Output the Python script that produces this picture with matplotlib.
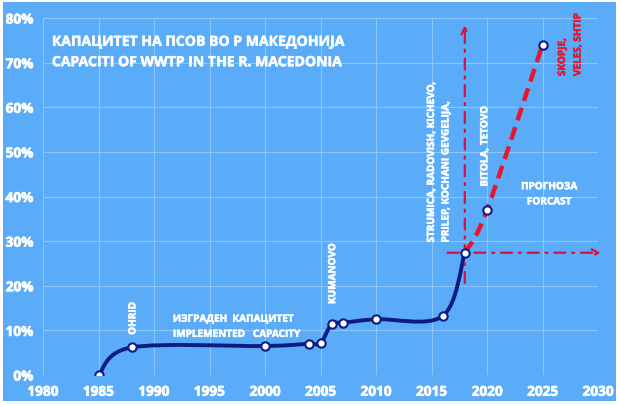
import matplotlib
matplotlib.use('Agg')
import matplotlib.pyplot as plt
import matplotlib.patheffects as pe
from matplotlib.path import Path
from matplotlib.patches import PathPatch, Rectangle
import numpy as np

plt.rcParams['font.family'] = ['Open Sans', 'DejaVu Sans']

# implemented capacity (% of population served)
years = [1985, 1988, 2000, 2004, 2005, 2006, 2007, 2010, 2016, 2018]
capacity = [0.0, 6.2, 6.5, 7.0, 7.1, 11.4, 11.7, 12.5, 13.2, 27.4]

# forecast
fc_years = [2018, 2020, 2025]
fc_capacity = [27.4, 37.0, 74.0]

x_ticks = [1980, 1985, 1990, 1995, 2000, 2005, 2010, 2015, 2020, 2025, 2030]
y_ticks = [0, 10, 20, 30, 40, 50, 60, 70, 80]

bg = '#5aacf8'
navy = '#0c1c80'
red = '#e8152e'
arrow_red = '#d3123f'


def smooth_path(xs, ys):
    # excel-like smoothed line: bezier segments through the data points
    pts = np.column_stack([xs, ys]).astype(float)
    n = len(pts)
    verts = [pts[0]]
    codes = [Path.MOVETO]
    for i in range(n - 1):
        p0 = pts[i - 1] if i > 0 else pts[i]
        p1 = pts[i]
        p2 = pts[i + 1]
        p3 = pts[i + 2] if i + 2 < n else pts[i + 1]
        c1 = p1 + (p2 - p0) / 6.0
        c2 = p2 - (p3 - p1) / 6.0
        verts += [c1, c2, p2]
        codes += [Path.CURVE4] * 3
    return Path(verts, codes)


def thick(color, w=0.35):
    return [pe.withStroke(linewidth=w, foreground=color)]


fig = plt.figure(figsize=(6.2, 4.05), dpi=100)
fig.patch.set_facecolor('white')
fig.patches.append(Rectangle((3 / 620, 4 / 405), 613 / 620, 399 / 405,
                             transform=fig.transFigure, facecolor=bg,
                             edgecolor='none', zorder=-10))

ax = fig.add_axes([43 / 620, 30 / 405, 555 / 620, 357 / 405])
ax.set_facecolor('none')
ax.set_xlim(1980, 2030)
ax.set_ylim(0, 80)
ax.set_xticks(x_ticks)
ax.set_yticks(y_ticks)
ax.set_yticklabels([f'{v}%' for v in y_ticks])
ax.tick_params(length=0, colors='white', labelsize=9.8, pad=7)
for lab in ax.get_xticklabels() + ax.get_yticklabels():
    lab.set_fontweight('bold')
    lab.set_path_effects(thick('white', 0.5))
for s in ax.spines.values():
    s.set_visible(False)
ax.grid(True, color='#8cc6fb', linewidth=0.8)
ax.set_axisbelow(True)

ax.add_patch(PathPatch(smooth_path(years, capacity), facecolor='none',
                       edgecolor=navy, linewidth=2.8, zorder=3,
                       capstyle='round'))
ax.add_patch(PathPatch(smooth_path(fc_years, fc_capacity), facecolor='none',
                       edgecolor=red, linewidth=3.2, linestyle=(0, (3, 1.6)),
                       zorder=3))
ax.plot(years, capacity, linestyle='none', marker='o', markersize=6,
        markerfacecolor='white', markeredgecolor=navy, markeredgewidth=1.5,
        zorder=5)
ax.plot(fc_years[1:], fc_capacity[1:], linestyle='none', marker='o',
        markersize=6, markerfacecolor='white', markeredgecolor=navy,
        markeredgewidth=1.5, zorder=5)

# dash-dot arrows marking today
ax.annotate('', xy=(2018, 79), xytext=(2018, 20),
            arrowprops=dict(arrowstyle='->', color=arrow_red, lw=1.6,
                            linestyle=(0, (5, 3, 1, 3)), mutation_scale=12),
            zorder=4, annotation_clip=False)
ax.annotate('', xy=(2030.5, 27.4), xytext=(2016.2, 27.4),
            arrowprops=dict(arrowstyle='->', color=arrow_red, lw=1.6,
                            linestyle=(0, (5, 3, 1, 3)), mutation_scale=12),
            zorder=4, annotation_clip=False)

# texts
tkw = dict(color='white', fontweight='bold', path_effects=thick('white'))
rkw = dict(color=red, fontweight='bold', path_effects=thick(red))
ax.text(1980.8, 74.6, 'КАПАЦИТЕТ НА ПСОВ ВО Р МАКЕДОНИЈА', fontsize=10.1,
        va='center', ha='left', **tkw)
ax.text(1980.8, 70.1, 'CAPACITI OF WWTP IN THE R. MACEDONIA', fontsize=10.1,
        va='center', ha='left', **tkw)
ax.text(1991.7, 12.5, 'ИЗГРАДЕН  КАПАЦИТЕТ', fontsize=7.2, va='center',
        ha='left', **tkw)
ax.text(1991.7, 9.1, 'IMPLEMENTED   CAPACITY', fontsize=7.2, va='center',
        ha='left', **tkw)
ax.text(2025.6, 42.2, 'ПРОГНОЗА', fontsize=7.2, va='center', ha='center', **tkw)
ax.text(2025.6, 38.8, 'FORCAST', fontsize=7.2, va='center', ha='center', **tkw)

rot = dict(fontsize=7.2, rotation=90, va='bottom', ha='center')
ax.text(1988.1, 9.0, 'OHRID', **rot, **tkw)
ax.text(2006.1, 15.9, 'KUMANOVO', **rot, **tkw)
ax.text(2015.0, 29.7, 'STRUMICA, RADOVISH, KICHEVO,', **rot, **tkw)
ax.text(2016.3, 29.7, 'PRILEP, KOCHANI GEVGELIJA,', **rot, **tkw)
ax.text(2019.8, 42.2, 'BITOLA, TETOVO', **rot, **tkw)
ax.text(2026.8, 67.0, 'SKOPJE,', **rot, **rkw)
ax.text(2028.2, 67.0, 'VELES, SHTIP', **rot, **rkw)

fig.savefig('out.png', dpi=100, facecolor=fig.get_facecolor())
